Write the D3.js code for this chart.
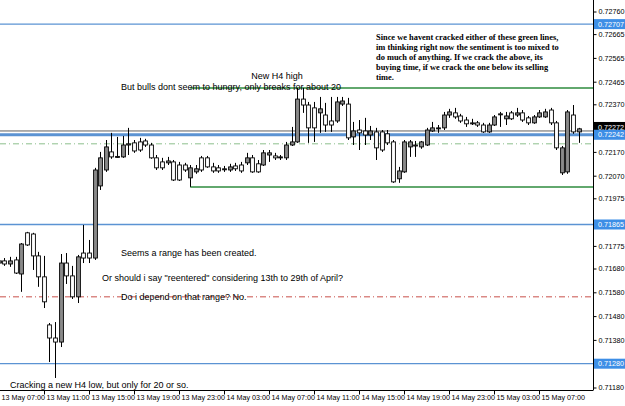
<!DOCTYPE html>
<html>
<head>
<meta charset="utf-8">
<script src="https://cdn.jsdelivr.net/npm/d3@7/dist/d3.min.js"></script>
<style>
  body { margin: 0; background: #fff; }
  svg { display: block; }
</style>
</head>
<body>
<script>
// M30 bars starting 13 May 07:00
const firstBar = "2016-05-13 07:00";
const opens = [0.71703,0.71712,0.71699,0.71716,0.71657,0.71830,0.71825,0.71733,0.71645,0.71443,
  0.71388,0.71371,0.71703,0.71649,0.71561,0.71745,0.71745,0.71724,0.72027,0.72094,
  0.72170,0.72151,0.72149,0.72199,0.72208,0.72212,0.72216,0.72199,0.72145,0.72128,
  0.72124,0.72128,0.72115,0.72115,0.72061,0.72086,0.72145,0.72145,0.72107,0.72103,
  0.72099,0.72094,0.72111,0.72115,0.72124,0.72145,0.72120,0.72115,0.72157,0.72153,
  0.72145,0.72145,0.72199,0.72212,0.72392,0.72367,0.72355,0.72334,0.72325,0.72300,
  0.72300,0.72371,0.72371,0.72233,0.72262,0.72258,0.72241,0.72254,0.72254,0.72246,
  0.72212,0.72057,0.72086,0.72191,0.72199,0.72191,0.72199,0.72258,0.72267,0.72271,
  0.72325,0.72334,0.72321,0.72304,0.72292,0.72292,0.72283,0.72254,0.72283,0.72330,
  0.72309,0.72334,0.72325,0.72334,0.72313,0.72292,0.72317,0.72317,0.72346,0.72292,
  0.72082,0.72086,0.72325,0.72254];
const highs = [0.71720,0.71724,0.71729,0.71729,0.71787,0.71834,0.71830,0.71750,0.71733,0.71451,
  0.71455,0.71741,0.71745,0.71691,0.71737,0.71863,0.71800,0.72103,0.72170,0.72220,
  0.72250,0.72233,0.72237,0.72271,0.72220,0.72229,0.72225,0.72208,0.72157,0.72145,
  0.72149,0.72136,0.72128,0.72124,0.72115,0.72115,0.72153,0.72153,0.72124,0.72115,
  0.72111,0.72120,0.72124,0.72128,0.72166,0.72157,0.72136,0.72178,0.72178,0.72166,
  0.72157,0.72212,0.72275,0.72439,0.72439,0.72380,0.72380,0.72401,0.72376,0.72401,
  0.72401,0.72401,0.72397,0.72296,0.72304,0.72313,0.72279,0.72271,0.72262,0.72262,
  0.72220,0.72107,0.72220,0.72220,0.72216,0.72216,0.72271,0.72296,0.72283,0.72338,
  0.72351,0.72355,0.72330,0.72317,0.72309,0.72300,0.72292,0.72292,0.72325,0.72338,
  0.72338,0.72342,0.72355,0.72346,0.72321,0.72325,0.72346,0.72351,0.72355,0.72300,
  0.72195,0.72346,0.72367,0.72271];
const lows = [0.71695,0.71691,0.71687,0.71657,0.71582,0.71775,0.71674,0.71603,0.71514,0.71287,
  0.71220,0.71350,0.71615,0.71552,0.71535,0.71703,0.71703,0.71716,0.72010,0.72086,
  0.72141,0.72145,0.72145,0.72157,0.72166,0.72170,0.72191,0.72141,0.72094,0.72094,
  0.72115,0.72048,0.72048,0.72086,0.72023,0.72078,0.72086,0.72103,0.72082,0.72082,
  0.72086,0.72086,0.72090,0.72082,0.72115,0.72082,0.72082,0.72111,0.72128,0.72136,
  0.72136,0.72136,0.72195,0.72208,0.72334,0.72208,0.72212,0.72250,0.72254,0.72254,
  0.72292,0.72363,0.72220,0.72199,0.72178,0.72199,0.72220,0.72136,0.72170,0.72199,
  0.72040,0.72040,0.72082,0.72149,0.72149,0.72183,0.72195,0.72254,0.72250,0.72262,
  0.72313,0.72309,0.72292,0.72275,0.72283,0.72275,0.72250,0.72250,0.72279,0.72275,
  0.72283,0.72304,0.72317,0.72296,0.72283,0.72288,0.72313,0.72313,0.72283,0.72178,
  0.72073,0.72078,0.72246,0.72208];
const closes = [0.71712,0.71699,0.71712,0.71661,0.71783,0.71779,0.71733,0.71645,0.71540,0.71388,
  0.71371,0.71703,0.71649,0.71561,0.71729,0.71724,0.71724,0.72094,0.72145,0.72191,
  0.72149,0.72149,0.72199,0.72204,0.72174,0.72178,0.72199,0.72145,0.72103,0.72103,
  0.72132,0.72052,0.72052,0.72094,0.72103,0.72099,0.72094,0.72107,0.72090,0.72090,
  0.72098,0.72107,0.72099,0.72090,0.72145,0.72086,0.72086,0.72166,0.72166,0.72145,
  0.72149,0.72199,0.72212,0.72392,0.72367,0.72271,0.72271,0.72351,0.72283,0.72283,
  0.72380,0.72384,0.72229,0.72258,0.72250,0.72241,0.72258,0.72187,0.72178,0.72208,
  0.72044,0.72090,0.72212,0.72212,0.72197,0.72212,0.72262,0.72271,0.72271,0.72325,
  0.72338,0.72317,0.72300,0.72288,0.72290,0.72283,0.72254,0.72283,0.72317,0.72327,
  0.72321,0.72309,0.72334,0.72304,0.72292,0.72317,0.72334,0.72338,0.72292,0.72187,
  0.72187,0.72338,0.72254,0.72267];

const timeLabels = ["13 May 07:00","13 May 11:00","13 May 15:00","13 May 19:00","13 May 23:00",
  "14 May 03:00","14 May 07:00","14 May 11:00","14 May 15:00","14 May 19:00","14 May 23:00",
  "15 May 03:00","15 May 07:00"];
const priceTicks = [0.72760,0.72665,0.72565,0.72465,0.72370,0.72170,0.72070,0.71975,
  0.71775,0.71680,0.71580,0.71480,0.71380,0.71180];
const blueLevels = [0.72707, 0.72242, 0.71865, 0.71280];
const rangeHigh = 0.72439;
const rangeLow = 0.72023;
const greenDashLevel = 0.72204;
const redDashLevel = 0.71561;
const bidPrice = 0.72258;
const bidLabel = "0.72272";

const noteBox = ["Since we havent cracked either of these green lines,",
  "im thinking right now the sentiment is too mixed to",
  "do much of anything. If we crack the above, its",
  "buying time, if we crack the one below its selling",
  "time."];
const noteHigh = ["New H4 high", "But bulls dont seem to hungry, only breaks for about 20"];
const noteRange = ["Seems a range has been created.",
  "Or should i say \"reentered\" considering 13th to 29th of April?",
  "Do i depend on that range? No."];
const noteLow = "Cracking a new H4 low, but only for 20 or so.";

const W = 625, H = 406;
const plotR = 593, plotB = 390;

const parseBar = d3.timeParse("%Y-%m-%d %H:%M");
const t0 = parseBar(firstBar);
const bars = opens.map((o, i) => ({
  t: d3.timeMinute.offset(t0, 30 * i),
  o, h: highs[i], l: lows[i], c: closes[i]
}));

const x = d3.scaleTime()
  .domain([d3.timeSecond.offset(t0, 384), d3.timeSecond.offset(t0, 384 + 593 / 5.63 * 1800)])
  .range([0, plotR]);
const y = d3.scaleLinear().domain([0.72760, 0.71180]).range([11.5, 387.5]);

const svg = d3.select("body").append("svg")
  .attr("width", W).attr("height", H)
  .attr("viewBox", [0, 0, W, H]);

const sans = "'Liberation Sans', Arial, sans-serif";

svg.append("defs").append("clipPath").attr("id", "plot")
  .append("rect").attr("x", 0).attr("y", 0).attr("width", plotR).attr("height", plotB);

const plot = svg.append("g").attr("clip-path", "url(#plot)");

// horizontal levels
plot.selectAll("line.blue")
  .data(blueLevels)
  .join("line")
  .attr("class", "blue")
  .attr("x1", 0).attr("x2", plotR)
  .attr("y1", d => y(d)).attr("y2", d => y(d))
  .attr("stroke", "#5b93d3")
  .attr("stroke-width", (d, i) => i === 1 ? 2.8 : 1.3);

plot.append("line")
  .attr("x1", 0).attr("x2", plotR)
  .attr("y1", y(bidPrice)).attr("y2", y(bidPrice))
  .attr("stroke", "#606060").attr("stroke-width", 1);

plot.append("line")
  .attr("x1", 0).attr("x2", plotR)
  .attr("y1", y(greenDashLevel)).attr("y2", y(greenDashLevel))
  .attr("stroke", "#8cbf8c").attr("stroke-width", 1)
  .attr("stroke-dasharray", "6,3,1,3");

plot.append("line")
  .attr("x1", 0).attr("x2", plotR)
  .attr("y1", y(redDashLevel)).attr("y2", y(redDashLevel))
  .attr("stroke", "#c8504a").attr("stroke-width", 1)
  .attr("stroke-dasharray", "6,3,1,3");

plot.selectAll("line.range")
  .data([rangeHigh, rangeLow])
  .join("line")
  .attr("class", "range")
  .attr("x1", x(bars[34].t)).attr("x2", plotR)
  .attr("y1", d => y(d)).attr("y2", d => y(d))
  .attr("stroke", "#2e8b3e").attr("stroke-width", 1.5);

// candles
const bw = 3.8;
const candles = plot.append("g").selectAll("g")
  .data(bars)
  .join("g");

candles.append("line")
  .attr("x1", d => Math.round(x(d.t)) + 0.5).attr("x2", d => Math.round(x(d.t)) + 0.5)
  .attr("y1", d => y(d.h)).attr("y2", d => y(d.l))
  .attr("stroke", "#000").attr("stroke-width", 1);

candles.append("rect")
  .attr("x", d => Math.round(x(d.t)) + 0.5 - bw / 2)
  .attr("y", d => y(Math.max(d.o, d.c)))
  .attr("width", bw)
  .attr("height", d => Math.max(1, Math.abs(y(d.o) - y(d.c))))
  .attr("fill", d => d.c > d.o ? "#8a8a8a" : "#fff")
  .attr("stroke", "#000").attr("stroke-width", 0.9);

// annotations
const notes = svg.append("g").attr("fill", "#000");

notes.append("text")
  .attr("font-family", "'Liberation Serif', 'Times New Roman', serif")
  .attr("font-weight", "bold").attr("font-size", 8.4)
  .selectAll("tspan").data(noteBox).join("tspan")
  .attr("x", 376).attr("y", (d, i) => 40 + i * 10.1)
  .text(d => d);

notes.append("text").attr("font-family", sans).attr("font-size", 9)
  .attr("x", 277).attr("y", 79).attr("text-anchor", "middle").text(noteHigh[0]);
notes.append("text").attr("font-family", sans).attr("font-size", 9)
  .attr("x", 121).attr("y", 90).text(noteHigh[1]);

notes.append("text").attr("font-family", sans).attr("font-size", 9)
  .attr("x", 121).attr("y", 256).text(noteRange[0]);
notes.append("text").attr("font-family", sans).attr("font-size", 9)
  .attr("x", 102).attr("y", 281).text(noteRange[1]);
notes.append("text").attr("font-family", sans).attr("font-size", 9)
  .attr("x", 121).attr("y", 300).text(noteRange[2]);
notes.append("text").attr("font-family", sans).attr("font-size", 9)
  .attr("x", 10).attr("y", 388).text(noteLow);

// frame
svg.append("line").attr("x1", plotR + 0.5).attr("x2", plotR + 0.5)
  .attr("y1", 0).attr("y2", plotB).attr("stroke", "#000");
svg.append("line").attr("x1", 0).attr("x2", plotR + 0.5)
  .attr("y1", plotB + 0.5).attr("y2", plotB + 0.5).attr("stroke", "#000");

// price axis
svg.append("g")
  .attr("transform", `translate(${plotR + 0.5},0)`)
  .call(d3.axisRight(y).tickValues(priceTicks).tickSize(3).tickPadding(2)
    .tickFormat(d3.format(".5f")))
  .call(g => g.select(".domain").remove())
  .call(g => g.selectAll("text").attr("font-family", sans).attr("font-size", 7.2).attr("fill", "#000"));

// price labels on the axis
const tag = (price, text, bg, dy) => {
  const g = svg.append("g").attr("transform", `translate(${plotR + 1},${y(price) + dy})`);
  g.append("rect").attr("x", 0).attr("y", -5).attr("width", W - plotR - 1).attr("height", 10)
    .attr("fill", bg);
  g.append("text").attr("x", 4).attr("y", 2.6).attr("font-family", sans).attr("font-size", 7.2)
    .attr("fill", "#fff").text(text);
};
tag(bidPrice, bidLabel, "#000", -4);
blueLevels.forEach(p => tag(p, d3.format(".5f")(p), "#3d8ee6", 0));

// time axis
const parseLabel = d3.timeParse("%Y %d %b %H:%M");
svg.append("g")
  .attr("transform", `translate(0,${plotB + 0.5})`)
  .selectAll("g")
  .data(timeLabels)
  .join("g")
  .attr("transform", d => `translate(${Math.round(x(parseLabel("2016 " + d))) + 0.5},0)`)
  .call(g => g.append("line").attr("y2", 4).attr("stroke", "#000"))
  .call(g => g.append("text").attr("x", 2).attr("y", 9)
    .attr("font-family", sans).attr("font-size", 7.2).attr("fill", "#000").text(d => d));
</script>
</body>
</html>
